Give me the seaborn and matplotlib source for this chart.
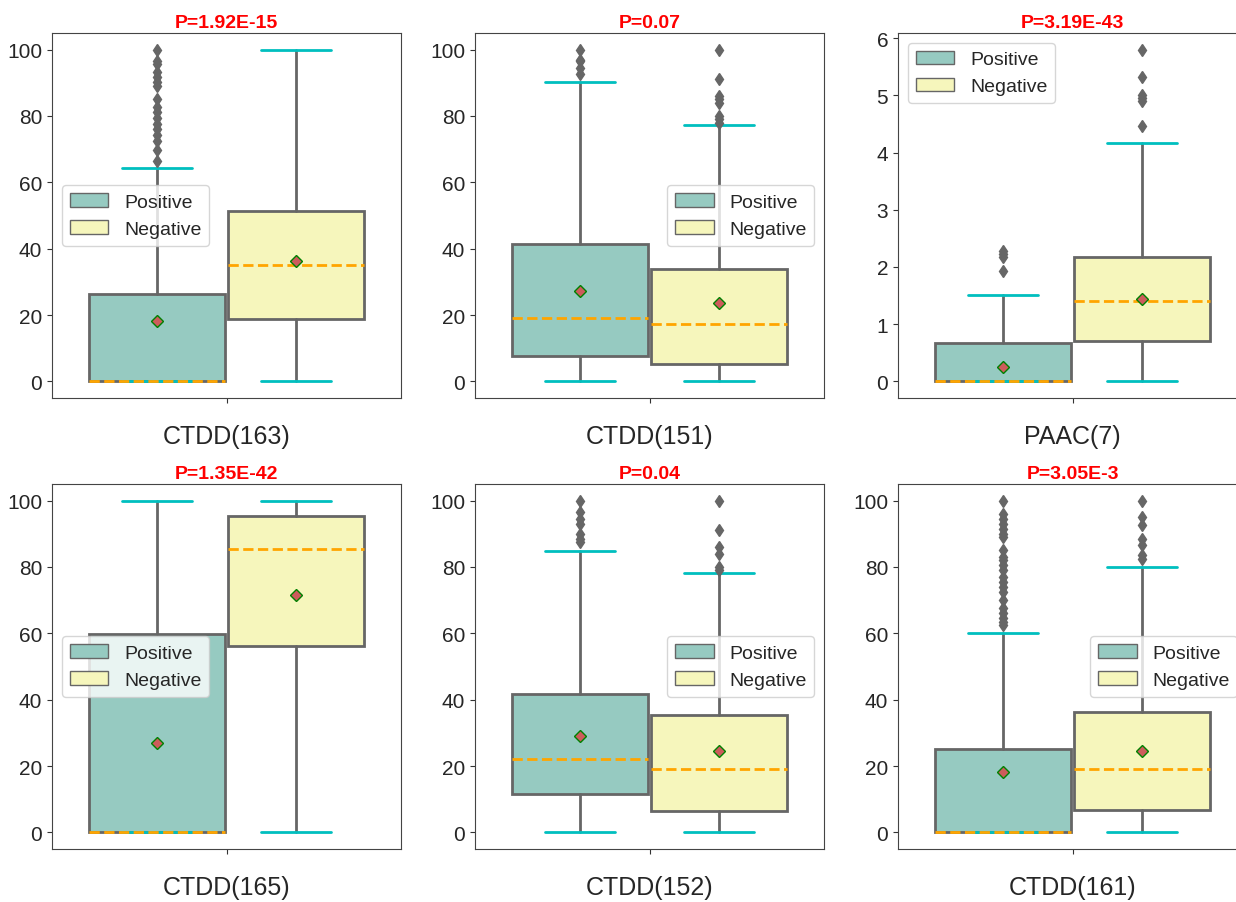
import numpy as np
import matplotlib
matplotlib.use("Agg")
import matplotlib.pyplot as plt
from matplotlib.patches import Patch
import seaborn as sns

# Box statistics
features = ["CTDD(163)", "CTDD(151)", "PAAC(7)", "CTDD(165)", "CTDD(152)", "CTDD(161)"]
p_labels = ["P=1.92E-15", "P=0.07", "P=3.19E-43", "P=1.35E-42", "P=0.04", "P=3.05E-3"]
groups = ["Positive", "Negative"]

pos_q1 = [0, 7.8, 0, 0, 11.6, 0]
pos_med = [0, 19.1, 0, 0, 22.0, 0]
pos_q3 = [26.4, 41.4, 0.67, 59.7, 41.6, 25.0]
pos_lo = [0, 0, 0, 0, 0, 0]
pos_hi = [64.4, 90.1, 1.51, 100, 84.7, 60.2]
pos_mean = [18.2, 27.3, 0.26, 26.9, 29.0, 18.2]
pos_fliers = [
    [66.4, 69.8, 72.4, 74.4, 76.2, 77.7, 79.4, 81.2, 82.7, 85.2, 88.9, 90.3, 91.8, 93.3, 95.8, 96.5, 100],
    [92.5, 94.5, 96.5, 97.0, 100],
    [1.93, 2.18, 2.23, 2.28],
    [],
    [87.5, 88.5, 90.0, 93.0, 94.5, 96.5, 100],
    [62.5, 63.5, 64.5, 66.0, 67.5, 70.0, 72.5, 74.0, 75.5, 77.0, 79.0, 80.5, 82.0, 83.0,
     85.0, 89.0, 90.0, 91.5, 93.0, 94.5, 96.0, 100],
]

neg_q1 = [18.7, 5.3, 0.70, 56.2, 6.4, 6.7]
neg_med = [35.0, 17.2, 1.40, 85.5, 19.0, 19.0]
neg_q3 = [51.5, 34.0, 2.17, 95.5, 35.3, 36.3]
neg_lo = [0, 0, 0, 0, 0, 0]
neg_hi = [100, 77.4, 4.16, 100, 78.1, 80.1]
neg_mean = [36.4, 23.5, 1.44, 71.5, 24.5, 24.5]
neg_fliers = [
    [],
    [78.0, 79.0, 80.0, 84.0, 85.0, 86.0, 91.0, 100],
    [4.47, 4.90, 4.95, 5.00, 5.32, 5.80],
    [],
    [79.0, 80.0, 84.0, 86.0, 91.0, 100],
    [82.5, 83.5, 86.5, 88.5, 92.5, 95.0, 100],
]

legend_locs = ["center left", "center right", "upper left", "center left", "center right", "center right"]

sns.set_style("ticks")
plt.rcParams["font.family"] = ["Liberation Sans", "DejaVu Sans"]

pal = sns.color_palette("Set3", 2)
box_colors = [sns.desaturate(c, 0.75) for c in pal]
edge = "#666666"

fig = plt.figure(figsize=(12.36, 9.03), dpi=100)
W, H = 1236, 903
lefts = [52, 475, 898]
tops = [34, 485]
aw, ah = 349, 365

for i, feat in enumerate(features):
    r, c = divmod(i, 3)
    ax = fig.add_axes([lefts[c] / W, 1 - (tops[r] + ah) / H, aw / W, ah / H])

    stats = [
        dict(q1=pos_q1[i], med=pos_med[i], q3=pos_q3[i], whislo=pos_lo[i], whishi=pos_hi[i],
             mean=pos_mean[i], fliers=np.array(pos_fliers[i])),
        dict(q1=neg_q1[i], med=neg_med[i], q3=neg_q3[i], whislo=neg_lo[i], whishi=neg_hi[i],
             mean=neg_mean[i], fliers=np.array(neg_fliers[i])),
    ]
    bp = ax.bxp(stats, positions=[-0.2, 0.2], widths=0.39, capwidths=0.2,
                patch_artist=True, showmeans=True,
                boxprops=dict(edgecolor=edge, linewidth=2),
                whiskerprops=dict(color=edge, linewidth=2),
                capprops=dict(color="c", linewidth=2),
                medianprops=dict(color="orange", linestyle="--", linewidth=2),
                meanprops=dict(marker="D", markerfacecolor="indianred", markeredgecolor="green",
                               markersize=6),
                flierprops=dict(marker="d", markerfacecolor=edge, markeredgecolor=edge,
                                markersize=6))
    for patch, col in zip(bp["boxes"], box_colors):
        patch.set_facecolor(col)

    ax.set_xlim(-0.5, 0.5)
    ax.set_xticks([0])
    ax.set_xticklabels([""])
    ax.set_xlabel(feat, fontsize=18, labelpad=12)
    ax.set_title(p_labels[i], color="red", fontweight="bold", fontsize=14, pad=4)
    ax.tick_params(labelsize=15, color="#333333")
    for sp in ax.spines.values():
        sp.set_color("#444444")

    handles = [Patch(facecolor=box_colors[k], edgecolor=edge, label=groups[k]) for k in range(2)]
    ax.legend(handles=handles, loc=legend_locs[i], fontsize=14)

fig.savefig("out.png", dpi=100)
